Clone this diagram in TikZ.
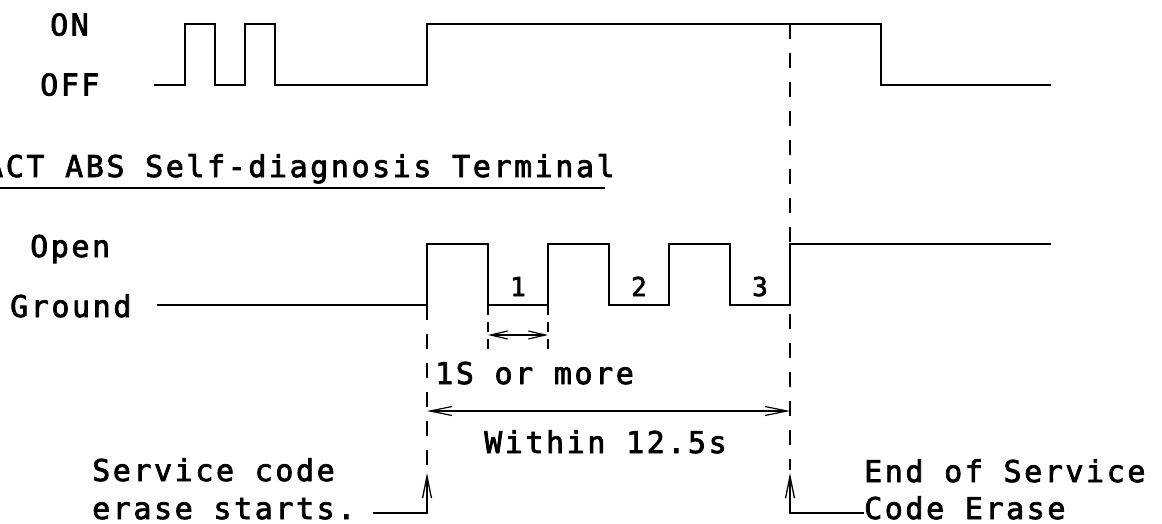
\documentclass[tikz,border=0pt]{standalone}
\usepackage{fontspec}
\usetikzlibrary{arrows.meta}
\newfontfamily\dg[LetterSpace=8.6,FakeBold=2.5]{DejaVu Sans Mono}
\begin{document}
\begin{tikzpicture}[x=1pt,y=-1pt,
  wave/.style={line width=1.7pt, line join=miter},
  guide/.style={line width=1.5pt, dash pattern=on 15pt off 14pt},
  shortguide/.style={line width=1.3pt, dash pattern=on 10pt off 7pt},
  lbl/.style={inner sep=0pt, anchor=base west, font=\dg\fontsize{30}{30}\selectfont},
  dig/.style={inner sep=0pt, anchor=base, font=\dg\fontsize{26}{26}\selectfont},
  barb/.tip={Straight Barb[length=22pt,width=9pt]},
  dimline/.style={line width=1.2pt, barb-barb},
  small dim/.style={line width=1.2pt, {Straight Barb[length=17pt,width=8pt]}-{Straight Barb[length=17pt,width=8pt]}},
  pointer/.style={line width=1.3pt, -barb}]
\useasboundingbox (0,0) rectangle (1162,524);

% labels
\node[lbl] (on) at (50,35.5) {ON};
\node[lbl] (off) at (40,95.5) {OFF};
\node[lbl] (title) at (-15,177) {ACT ABS Self-diagnosis Terminal};
\node[lbl] (open) at (30,257) {Open};
\node[lbl] (gnd) at (10,317) {Ground};
\node[dig] (n1) at (518,296) {1};
\node[dig] (n2) at (639,296) {2};
\node[dig] (n3) at (760,296) {3};
\node[lbl] (onesec) at (435,384) {1S or more};
\node[lbl] (within) at (484,453) {Within 12.5s};
\node[lbl] (svc1) at (92,481) {Service code};
\node[lbl] (svc2) at (92,519) {erase starts.};
\node[lbl] (end1) at (864,482) {End of Service};
\node[lbl] (end2) at (864,519) {Code Erase};

% underline of title
\draw[line width=1.8pt] (0,188) -- (605,188);

% top signal
\draw[wave] (154,85) -- (185,85) -- (185,24) -- (215,24) -- (215,85) -- (245,85) -- (245,24)
  -- (275,24) -- (275,85) -- (427,85) -- (427,24) -- (881,24) -- (881,85) -- (1051,85);

% lower signal
\draw[wave] (157,305) -- (427,305) -- (427,244) -- (488,244) -- (488,305) -- (548,305) -- (548,244)
  -- (609,244) -- (609,305) -- (669,305) -- (669,244) -- (730,244) -- (730,305) -- (790,305)
  -- (790,244) -- (1051,244);

% guide coordinates
\coordinate (sA) at (427,305);
\coordinate (sAe) at (427,470);
\coordinate (sB) at (488,305);
\coordinate (sBe) at (488,352);
\coordinate (sC) at (548,305);
\coordinate (sCe) at (548,352);
\coordinate (eA) at (790,24);
\coordinate (eAe) at (790,470);

\draw[guide] (sA) -- (sAe);
\draw[guide] (eA) -- (eAe);
\draw[shortguide] (sB) -- (sBe);
\draw[shortguide] (sC) -- (sCe);

% dimensions
\draw[small dim] (488,335) -- (548,335);
\draw[dimline] (427,411) -- (790,411);

% pointers
\coordinate (pL) at (373,513);
\coordinate (pLc) at (427,513);
\coordinate (pLt) at (427,473);
\coordinate (pRc) at (790,513);
\coordinate (pRt) at (790,473);
\draw[pointer] (pL) -- (pLc) -- (pLt);
\draw[pointer] (end2.west |- pRc) -- (pRc) -- (pRt);
\end{tikzpicture}
\end{document}
